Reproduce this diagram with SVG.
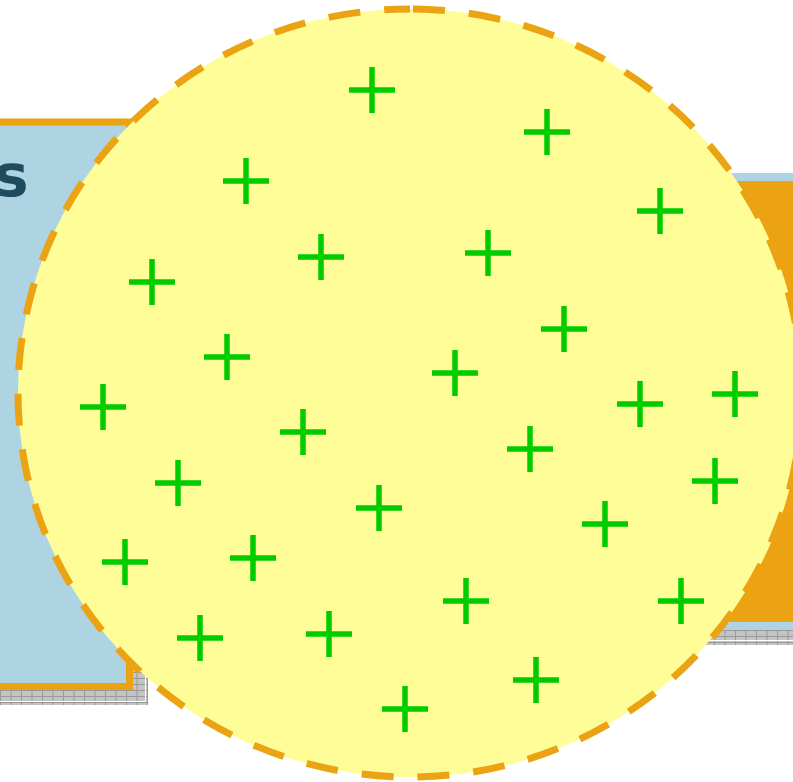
<svg xmlns="http://www.w3.org/2000/svg" xmlns:xlink="http://www.w3.org/1999/xlink" width="793" height="782" viewBox="0 0 793 782">
<style>
.blue{fill:#aed3e2}
.orange{fill:#eca313}
.lbox{fill:#aed3e2;stroke:#eca313;stroke-width:7}
.shadow{fill:url(#grid)}
.shline{fill:none;stroke:#ffffff;stroke-width:1}
.label{font-family:"DejaVu Sans",sans-serif;font-weight:bold;font-size:58px;fill:#1e4b5e}
.disc{fill:#fefd97;stroke:#eca313;stroke-width:7;stroke-dasharray:32 24;stroke-dashoffset:53}
.plus{stroke:#00cc00;stroke-width:5.5;fill:none}
</style>
<defs>
<pattern id="grid" patternUnits="userSpaceOnUse" x="0" y="0" width="10.5" height="6" viewBox="0 0 10.5 6">
<rect width="10.5" height="6" fill="#c4c4c4"/>
<path d="M0.5 0V6M0 0.5H10.5" stroke="#999999" stroke-width="1"/>
</pattern>
<path id="p" class="plus" d="M-23 0H23M0 -23V23"/>
</defs>
<g id="left-box">
<rect class="shadow" x="-20" y="137" width="168" height="568"/>
<path class="shline" d="M145.5 137V701.5H-20"/>
<rect class="lbox" x="-20" y="122" width="149.5" height="564.5"/>
<text class="label" x="-6" y="196">s</text>
</g>
<g id="right-box">
<rect class="shadow" x="700" y="188" width="120" height="457"/>
<path class="shline" d="M700 640.5H820"/>
<rect class="blue" x="690" y="173" width="120" height="457"/>
<rect class="orange" x="690" y="181" width="120" height="441"/>
</g>
<g id="circle">
<path class="disc" d="M410 9A392 384 0 0 1 410 777A392 384 0 0 1 410 9Z"/>
</g>
<g id="markers">
<g id="m1"><use xlink:href="#p" x="372" y="90"/></g>
<g id="m2"><use xlink:href="#p" x="547" y="132"/></g>
<g id="m3"><use xlink:href="#p" x="246" y="181"/></g>
<g id="m4"><use xlink:href="#p" x="660" y="211"/></g>
<g id="m5"><use xlink:href="#p" x="321" y="257"/></g>
<g id="m6"><use xlink:href="#p" x="488" y="253"/></g>
<g id="m7"><use xlink:href="#p" x="152" y="282"/></g>
<g id="m8"><use xlink:href="#p" x="564" y="329"/></g>
<g id="m9"><use xlink:href="#p" x="227" y="357"/></g>
<g id="m10"><use xlink:href="#p" x="455" y="373"/></g>
<g id="m11"><use xlink:href="#p" x="103" y="407"/></g>
<g id="m12"><use xlink:href="#p" x="640" y="404"/></g>
<g id="m13"><use xlink:href="#p" x="735" y="394"/></g>
<g id="m14"><use xlink:href="#p" x="303" y="432"/></g>
<g id="m15"><use xlink:href="#p" x="530" y="449"/></g>
<g id="m16"><use xlink:href="#p" x="178" y="483"/></g>
<g id="m17"><use xlink:href="#p" x="715" y="481"/></g>
<g id="m18"><use xlink:href="#p" x="379" y="508"/></g>
<g id="m19"><use xlink:href="#p" x="605" y="524"/></g>
<g id="m20"><use xlink:href="#p" x="125" y="562"/></g>
<g id="m21"><use xlink:href="#p" x="253" y="558"/></g>
<g id="m22"><use xlink:href="#p" x="466" y="601"/></g>
<g id="m23"><use xlink:href="#p" x="681" y="601"/></g>
<g id="m24"><use xlink:href="#p" x="200" y="638"/></g>
<g id="m25"><use xlink:href="#p" x="329" y="634"/></g>
<g id="m26"><use xlink:href="#p" x="536" y="680"/></g>
<g id="m27"><use xlink:href="#p" x="405" y="709"/></g>
</g>
</svg>
